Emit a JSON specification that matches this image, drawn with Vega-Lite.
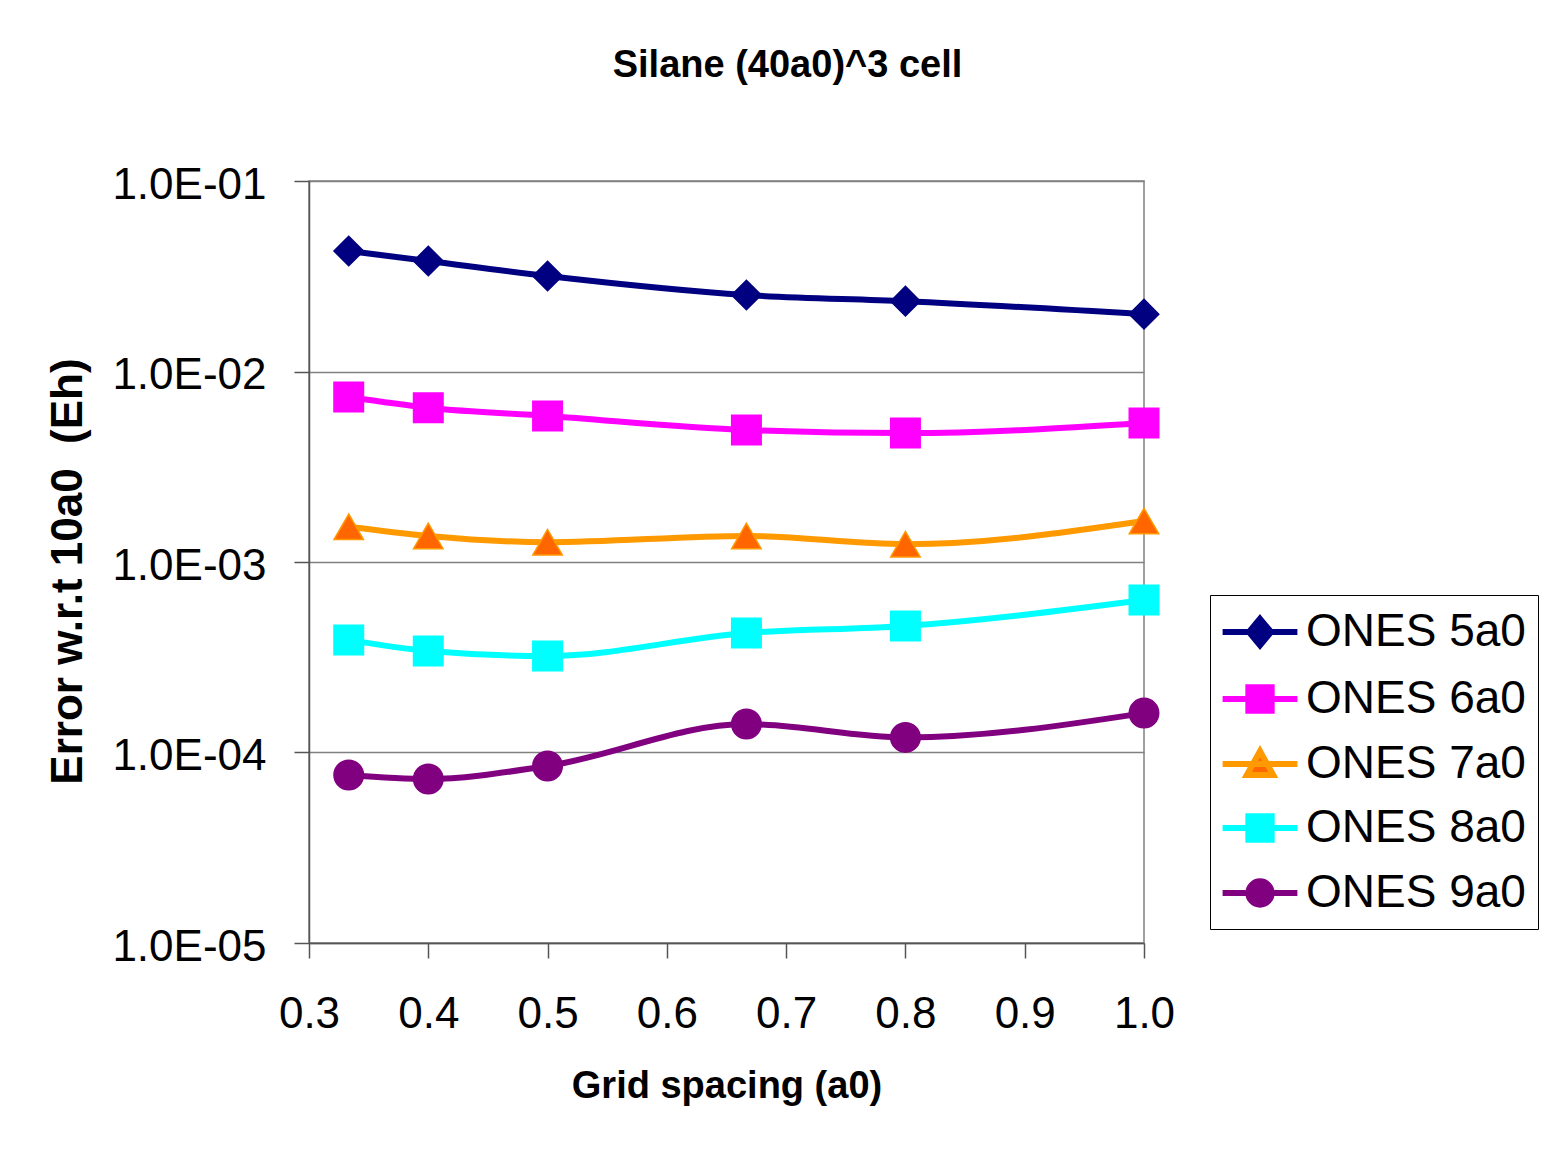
{
  "$schema": "https://vega.github.io/schema/vega-lite/v6.json",
  "autosize": {"type": "none"},
  "width": 835,
  "height": 762,
  "padding": {"left": 309, "top": 181, "right": 411, "bottom": 230},
  "background": "white",
  "title": {
    "text": "Silane (40a0)^3 cell",
    "font": "Liberation Sans",
    "fontSize": 38,
    "fontWeight": "bold",
    "color": "black",
    "anchor": "middle",
    "dx": 61,
    "offset": 78
  },
  "config": {
    "view": {"stroke": "#808080", "strokeWidth": 1.5},
    "axis": {
      "labelFont": "Liberation Sans",
      "titleFont": "Liberation Sans",
      "labelColor": "black",
      "titleColor": "black",
      "domainColor": "#555555",
      "domainWidth": 1.5,
      "tickColor": "#555555",
      "tickWidth": 1.5,
      "gridColor": "#808080",
      "gridWidth": 1.5
    }
  },
  "data": {
    "values": [
      {"x": 0.3333, "err": 0.0429, "series": "ONES 5a0"},
      {"x": 0.4, "err": 0.038, "series": "ONES 5a0"},
      {"x": 0.5, "err": 0.0317, "series": "ONES 5a0"},
      {"x": 0.6667, "err": 0.0252, "series": "ONES 5a0"},
      {"x": 0.8, "err": 0.0234, "series": "ONES 5a0"},
      {"x": 1.0, "err": 0.02, "series": "ONES 5a0"},
      {"x": 0.3333, "err": 0.00734, "series": "ONES 6a0"},
      {"x": 0.4, "err": 0.00645, "series": "ONES 6a0"},
      {"x": 0.5, "err": 0.00584, "series": "ONES 6a0"},
      {"x": 0.6667, "err": 0.00493, "series": "ONES 6a0"},
      {"x": 0.8, "err": 0.00475, "series": "ONES 6a0"},
      {"x": 1.0, "err": 0.00537, "series": "ONES 6a0"},
      {"x": 0.3333, "err": 0.00153, "series": "ONES 7a0"},
      {"x": 0.4, "err": 0.00137, "series": "ONES 7a0"},
      {"x": 0.5, "err": 0.00127, "series": "ONES 7a0"},
      {"x": 0.6667, "err": 0.00137, "series": "ONES 7a0"},
      {"x": 0.8, "err": 0.00124, "series": "ONES 7a0"},
      {"x": 1.0, "err": 0.00164, "series": "ONES 7a0"},
      {"x": 0.3333, "err": 0.00039, "series": "ONES 8a0"},
      {"x": 0.4, "err": 0.000341, "series": "ONES 8a0"},
      {"x": 0.5, "err": 0.000321, "series": "ONES 8a0"},
      {"x": 0.6667, "err": 0.000424, "series": "ONES 8a0"},
      {"x": 0.8, "err": 0.000461, "series": "ONES 8a0"},
      {"x": 1.0, "err": 0.000631, "series": "ONES 8a0"},
      {"x": 0.3333, "err": 0.0000762, "series": "ONES 9a0"},
      {"x": 0.4, "err": 0.0000726, "series": "ONES 9a0"},
      {"x": 0.5, "err": 0.000085, "series": "ONES 9a0"},
      {"x": 0.6667, "err": 0.000141, "series": "ONES 9a0"},
      {"x": 0.8, "err": 0.00012, "series": "ONES 9a0"},
      {"x": 1.0, "err": 0.000161, "series": "ONES 9a0"}
    ]
  },
  "encoding": {
    "x": {
      "field": "x",
      "type": "quantitative",
      "scale": {"domain": [0.3, 1.0], "nice": false, "zero": false},
      "axis": {
        "title": "Grid spacing (a0)",
        "values": [0.3, 0.4, 0.5, 0.6, 0.7, 0.8, 0.9, 1.0],
        "format": ".1f",
        "grid": false,
        "tickSize": 15,
        "labelFontSize": 44,
        "labelPadding": 34,
        "labelFlush": false,
        "titleFontSize": 38,
        "titleFontWeight": "bold",
        "titlePadding": 31
      }
    },
    "y": {
      "field": "err",
      "type": "quantitative",
      "scale": {"type": "log", "domain": [0.00001, 0.1], "nice": false},
      "axis": {
        "title": "Error w.r.t 10a0 \u00a0(Eh)",
        "values": [0.00001, 0.0001, 0.001, 0.01, 0.1],
        "labelExpr": "'1.0E-0' + format(-log(datum.value)/LN10, '.0f')",
        "grid": true,
        "tickSize": 15,
        "labelFontSize": 44,
        "labelPadding": 28,
        "labelFlush": false,
        "labelOffset": 4,
        "titleFontSize": 44,
        "titleFontWeight": "bold",
        "titlePadding": 21,
        "titleY": 390
      }
    }
  },
  "layer": [
    {
      "mark": {"type": "line", "interpolate": "monotone", "strokeWidth": 6},
      "encoding": {
        "color": {
          "field": "series",
          "type": "nominal",
          "scale": {
            "domain": ["ONES 5a0", "ONES 6a0", "ONES 7a0", "ONES 8a0", "ONES 9a0"],
            "range": ["#000080", "#FF00FF", "#FF9900", "#00FFFF", "#800080"]
          },
          "legend": null
        }
      }
    },
    {
      "mark": {"type": "point", "filled": true, "size": 870, "strokeWidth": 1.5, "opacity": 1},
      "encoding": {
        "shape": {
          "field": "series",
          "type": "nominal",
          "scale": {
            "domain": ["ONES 5a0", "ONES 6a0", "ONES 7a0", "ONES 8a0", "ONES 9a0"],
            "range": ["diamond", "square", "triangle-up", "square", "circle"]
          },
          "legend": null
        },
        "fill": {
          "field": "series",
          "type": "nominal",
          "scale": {
            "domain": ["ONES 5a0", "ONES 6a0", "ONES 7a0", "ONES 8a0", "ONES 9a0"],
            "range": ["#000080", "#FF00FF", "#FF6600", "#00FFFF", "#800080"]
          },
          "legend": null
        },
        "stroke": {
          "field": "series",
          "type": "nominal",
          "scale": {
            "domain": ["ONES 5a0", "ONES 6a0", "ONES 7a0", "ONES 8a0", "ONES 9a0"],
            "range": ["#000080", "#FF00FF", "#FF9900", "#00FFFF", "#800080"]
          },
          "legend": null
        }
      }
    },
    {
      "transform": [{"filter": "false"}],
      "mark": {"type": "point", "filled": true, "strokeWidth": 6},
      "encoding": {
        "shape": {
          "field": "series",
          "type": "nominal",
          "scale": {
            "domain": ["ONES 5a0", "ONES 6a0", "ONES 7a0", "ONES 8a0", "ONES 9a0"],
            "range": [
              "M-1.7,0H1.7M0,-0.6L0.5,0L0,0.6L-0.5,0Z",
              "M-1.7,0H1.7M-0.53,-0.53H0.53V0.53H-0.53Z",
              "M-1.7,0H1.7M0,-0.58L0.6,0.5L-0.6,0.5Z",
              "M-1.7,0H1.7M-0.53,-0.53H0.53V0.53H-0.53Z",
              "M-1.7,0H1.7M-0.53,0A0.53,0.53 0 1,1 0.53,0A0.53,0.53 0 1,1 -0.53,0Z"
            ]
          },
          "legend": {
            "title": null, "orient": "none", "legendX": 901, "legendY": 414,
            "symbolSize": 1936, "symbolStrokeWidth": 6, "symbolOpacity": 1,
            "labelFont": "Liberation Sans", "labelFontSize": 46, "labelColor": "black", "labelLimit": 400,
            "rowPadding": 16, "padding": 12, "strokeColor": "black", "symbolOffset": 13, "labelOffset": 21
          }
        },
        "fill": {
          "field": "series",
          "type": "nominal",
          "scale": {
            "domain": ["ONES 5a0", "ONES 6a0", "ONES 7a0", "ONES 8a0", "ONES 9a0"],
            "range": ["#000080", "#FF00FF", "#FF6600", "#00FFFF", "#800080"]
          },
          "legend": {
            "title": null, "orient": "none", "legendX": 901, "legendY": 414,
            "symbolSize": 1936, "symbolStrokeWidth": 6, "symbolOpacity": 1,
            "labelFont": "Liberation Sans", "labelFontSize": 46, "labelColor": "black", "labelLimit": 400,
            "rowPadding": 16, "padding": 12, "strokeColor": "black", "symbolOffset": 13, "labelOffset": 21
          }
        },
        "stroke": {
          "field": "series",
          "type": "nominal",
          "scale": {
            "domain": ["ONES 5a0", "ONES 6a0", "ONES 7a0", "ONES 8a0", "ONES 9a0"],
            "range": ["#000080", "#FF00FF", "#FF9900", "#00FFFF", "#800080"]
          },
          "legend": {
            "title": null, "orient": "none", "legendX": 901, "legendY": 414,
            "symbolSize": 1936, "symbolStrokeWidth": 6, "symbolOpacity": 1,
            "labelFont": "Liberation Sans", "labelFontSize": 46, "labelColor": "black", "labelLimit": 400,
            "rowPadding": 16, "padding": 12, "strokeColor": "black", "symbolOffset": 13, "labelOffset": 21
          }
        }
      }
    }
  ],
  "resolve": {"scale": {"shape": "independent", "fill": "independent", "stroke": "independent"}}
}
